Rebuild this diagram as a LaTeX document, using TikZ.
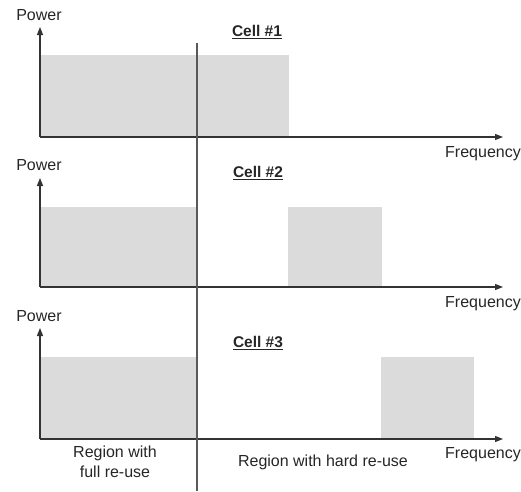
\documentclass[tikz,border=0pt]{standalone}
\usepackage{fontspec}
\setmainfont{Liberation Sans}
\usetikzlibrary{arrows.meta}
\begin{document}
\begin{tikzpicture}[x=1pt,y=-1pt,
  axis/.style={draw=black!80,line width=1.2pt,-{Triangle[length=8pt,width=6pt]}},
  band/.style={fill=black!14,draw=none},
  divider/.style={draw=black!65,line width=1.4pt},
  lbl/.style={font=\fontsize{16}{18}\selectfont,inner sep=0pt,text=black!85},
  celltitle/.style={font=\fontsize{15.5}{17}\selectfont\bfseries,inner sep=0pt,text=black!85}]
\useasboundingbox (0,0) rectangle (521,491);

% frequency bands of each cell
\fill[band] (40,55) rectangle (289,137);
\fill[band] (40,207) rectangle (197,287);
\fill[band] (288,207) rectangle (382,287);
\fill[band] (40,357) rectangle (197,439);
\fill[band] (381,357) rectangle (474,439);

% axis corners and tips
\coordinate (o1) at (40,137);  \coordinate (p1) at (40,27);  \coordinate (f1) at (503,137);
\coordinate (o2) at (40,287);  \coordinate (p2) at (40,178); \coordinate (f2) at (503,287);
\coordinate (o3) at (40,439);  \coordinate (p3) at (40,328); \coordinate (f3) at (503,439);

\draw[axis] (o1) -- (p1);
\draw[axis] (o1) -- (f1);
\draw[axis] (o2) -- (p2);
\draw[axis] (o2) -- (f2);
\draw[axis] (o3) -- (p3);
\draw[axis] (o3) -- (f3);

% boundary between full and hard re-use
\coordinate (dtop) at (197,43);
\coordinate (dbot) at (197,491);
\draw[divider] (dtop) -- (dbot);

% labels
\node[lbl] (pw1) at (39,15) {Power};
\node[lbl] (pw2) at (39,165) {Power};
\node[lbl] (pw3) at (39,316) {Power};
\node[lbl,anchor=east] (fr1) at (521,154) {Frequency};
\node[lbl,anchor=east] (fr2) at (521,304) {Frequency};
\node[lbl,anchor=east] (fr3) at (521,455) {Frequency};
\node[celltitle] (c1) at (257,32) {\underline{Cell \#1}};
\node[celltitle] (c2) at (258,173) {\underline{Cell \#2}};
\node[celltitle] (c3) at (258,343) {\underline{Cell \#3}};
\node[lbl,align=center,font=\fontsize{16}{20}\selectfont] (full) at (115,462) {Region with\\full re-use};
\node[lbl] (hard) at (323,462) {Region with hard re-use};
\end{tikzpicture}
\end{document}
